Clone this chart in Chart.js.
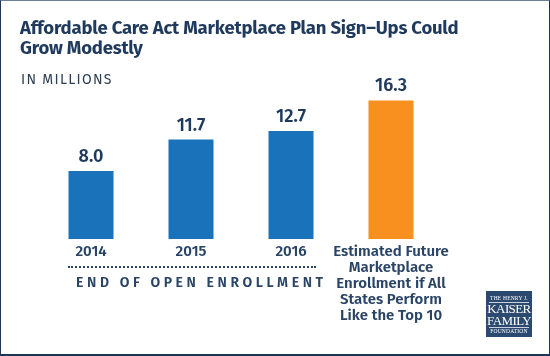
<!DOCTYPE html>
<html>
<head>
<meta charset="utf-8">
<script src="https://cdn.jsdelivr.net/npm/chart.js@4.4.1/dist/chart.umd.min.js"></script>
<style>
  html, body { margin: 0; padding: 0; background: #fff; }
  #wrap { position: relative; width: 550px; height: 356px; overflow: hidden; background: #fff; font-family: "Fira Sans", "Open Sans", sans-serif; }
  #frame { position: absolute; left: 0; top: 0; width: 548px; height: 353px; border-left: 1px solid #1d3557; border-right: 1px solid #1d3557; border-top: 1px solid #6b7f98; border-bottom: 2px solid #1d3557; pointer-events: none; z-index: 5; }
  canvas { position: absolute; left: 0; top: 0; }
  #title { position: absolute; left: 20px; top: 18px; width: 470px; font-size: 18.5px; font-weight: 700; line-height: 20px; color: #1f3a5c; letter-spacing: -0.2px; }
  #sub { position: absolute; left: 21px; top: 71px; font-size: 14px; letter-spacing: 1.3px; color: #2b3d55; }
  #dots { position: absolute; left: 68px; top: 266px; width: 248px; height: 0; border-top: 2px dotted #2a4466; }
  #enroll { position: absolute; left: 76px; top: 274px; font-size: 14px; font-weight: 600; letter-spacing: 3.6px; color: #2a4466; white-space: nowrap; }
  #logo { position: absolute; left: 486px; top: 291px; width: 46px; height: 46px; background: #2c4a70; color: #fff; font-family: "Liberation Serif", "DejaVu Serif", serif; text-align: center; }
  #logo .s { font-size: 5.5px; line-height: 7px; letter-spacing: 0.2px; }
  #logo .b { font-size: 13px; line-height: 12px; letter-spacing: -0.6px; }
  #logo .ln { height: 0; border-top: 1px solid #c8d2df; margin: 0 3px; }
</style>
</head>
<body>
<div id="wrap">
  <canvas id="c" width="550" height="356"></canvas>
  <div id="title">Affordable Care Act Marketplace Plan Sign–Ups Could Grow Modestly</div>
  <div id="sub">IN MILLIONS</div>
  <div id="dots"></div>
  <div id="enroll">END OF OPEN ENROLLMENT</div>
  <div id="logo">
    <div class="s" style="padding-top:4px">THE HENRY J.</div>
    <div class="ln"></div>
    <div class="b">KAISER</div>
    <div class="b">FAMILY</div>
    <div class="ln"></div>
    <div class="s">FOUNDATION</div>
  </div>
  <div id="frame"></div>
</div>
<script>
const categories = [
  "2014",
  "2015",
  "2016",
  ["Estimated Future", "Marketplace", "Enrollment if All", "States Perform", "Like the Top 10"]
];
const signUps = [8.0, 11.7, 12.7, 16.3];
const barColors = ["#1a72ba", "#1a72ba", "#1a72ba", "#f7901e"];

const valueLabels = {
  id: "valueLabels",
  afterDatasetsDraw(chart) {
    const ctx = chart.ctx;
    const meta = chart.getDatasetMeta(0);
    ctx.save();
    ctx.font = "600 18px 'Fira Sans', 'Open Sans', sans-serif";
    ctx.fillStyle = "#1f3a5c";
    ctx.textAlign = "center";
    ctx.textBaseline = "middle";
    meta.data.forEach((bar, i) => {
      ctx.fillText(signUps[i].toFixed(1), bar.x, bar.y - 14);
    });
    ctx.restore();
  }
};

new Chart(document.getElementById("c"), {
  type: "bar",
  data: {
    labels: categories,
    datasets: [{
      data: signUps,
      backgroundColor: barColors,
      borderWidth: 0,
      barPercentage: 0.45,
      categoryPercentage: 1.0
    }]
  },
  options: {
    responsive: false,
    animation: false,
    devicePixelRatio: 1,
    layout: { padding: { left: 41, right: 109, top: 69, bottom: 0 } },
    plugins: { legend: { display: false }, tooltip: { enabled: false }, title: { display: false } },
    scales: {
      y: { display: false, min: 0, max: 20 },
      x: {
        grid: { display: false, drawTicks: false },
        border: { display: false },
        ticks: {
          color: "#2a4466",
          font: { family: "'Fira Sans', 'Open Sans', sans-serif", size: 15, weight: "600", lineHeight: 1.07 },
          padding: 5,
          maxRotation: 0,
          autoSkip: false
        },
        afterFit(scale) { scale.height = 117; }
      }
    }
  },
  plugins: [valueLabels]
});
</script>
</body>
</html>
